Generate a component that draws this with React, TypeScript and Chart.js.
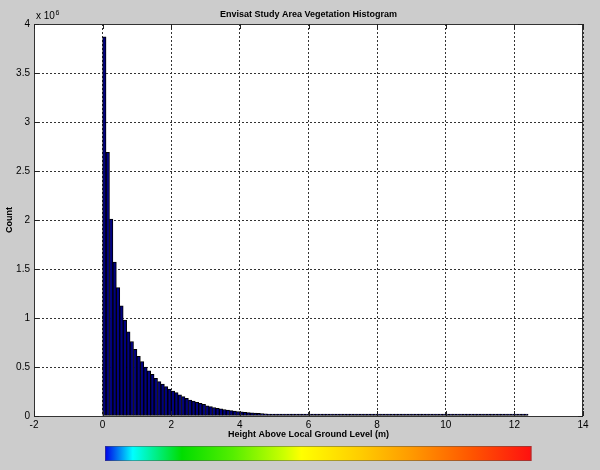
import React, { useEffect, useRef } from "react";
import { Chart, registerables } from "chart.js";

Chart.register(...registerables);

// Histogram bin width (m) and bin counts (in units of 10^6)
const BIN_WIDTH = 0.1;
const COUNTS_MILLIONS: number[] = [
  3.87, 2.69, 2.01, 1.57, 1.31, 1.125, 0.98, 0.86, 0.76, 0.68,
  0.61, 0.555, 0.5, 0.46, 0.425, 0.385, 0.35, 0.325, 0.3, 0.275,
  0.255, 0.238, 0.215, 0.197, 0.18, 0.163, 0.153, 0.14, 0.13, 0.12,
  0.105, 0.095, 0.087, 0.079, 0.072, 0.066, 0.06, 0.055, 0.05, 0.046,
  0.042, 0.038, 0.035, 0.032, 0.029, 0.026, 0.024, 0.022, 0.02, 0.018,
  0.016, 0.015, 0.013, 0.012, 0.011, 0.01, 0.009, 0.008, 0.0075, 0.007,
  0.0065, 0.006, 0.0056, 0.0052, 0.0048, 0.0045, 0.0042, 0.0039, 0.0036, 0.0034,
  0.0031, 0.0029, 0.0027, 0.0025, 0.0023, 0.0022, 0.002, 0.0019, 0.0018, 0.0017,
  0.0016, 0.0015, 0.0014, 0.0013, 0.0012, 0.0012, 0.0011, 0.001, 0.001, 0.0009,
  0.0009, 0.0008, 0.0008, 0.0007, 0.0007, 0.0007, 0.0006, 0.0006, 0.0006, 0.0005,
  0.0005, 0.0005, 0.0005, 0.0004, 0.0004, 0.0004, 0.0004, 0.0004, 0.0003, 0.0003,
  0.0003, 0.0003, 0.0003, 0.0003, 0.0003, 0.0002, 0.0002, 0.0002, 0.0002, 0.0002,
  0.0002, 0.0002, 0.0001, 0.0001,
];

// Axis ranges / ticks
const X_MIN = -2;
const X_MAX = 14;
const X_STEP = 2;
const Y_MIN = 0;
const Y_MAX = 4;
const Y_STEP = 0.5;

// Texts
const TITLE = "Envisat Study Area Vegetation Histogram";
const X_LABEL = "Height Above Local Ground Level (m)";
const Y_LABEL = "Count";
const Y_EXPONENT = "6";

// Colorbar (data-range along x, and colour stops)
const COLORBAR_RANGE = [0.07, 12.5];
const COLORBAR_STOPS: [number, string][] = [
  [0, "#0000e8"],
  [0.065, "#00ffff"],
  [0.18, "#00dd00"],
  [0.3, "#55ee00"],
  [0.42, "#ccff00"],
  [0.46, "#ffff00"],
  [0.6, "#ffcc00"],
  [0.72, "#ff9900"],
  [0.86, "#ff5500"],
  [1, "#ff1010"],
];

const FONT = "'Liberation Sans', Arial, Helvetica, sans-serif";

export default function App() {
  const ref = useRef<HTMLCanvasElement | null>(null);

  useEffect(() => {
    const canvas = ref.current;
    if (!canvas) return;
    document.body.style.margin = "0";

    const points = COUNTS_MILLIONS.map((c, i) => ({
      x: i * BIN_WIDTH + BIN_WIDTH / 2,
      y: c,
    }));

    const decor = {
      id: "matlabDecor",
      beforeDraw(chart: any) {
        const { ctx, chartArea: a } = chart;
        ctx.save();
        ctx.fillStyle = "#cccccc";
        ctx.fillRect(0, 0, chart.width, chart.height);
        ctx.fillStyle = "#ffffff";
        ctx.fillRect(a.left, a.top, a.right - a.left, a.bottom - a.top);
        ctx.restore();
      },
      afterDraw(chart: any) {
        const { ctx, chartArea: a } = chart;
        const xs = chart.scales.x;
        const ys = chart.scales.y;
        ctx.save();
        // box
        ctx.strokeStyle = "#333333";
        ctx.lineWidth = 1;
        ctx.strokeRect(a.left + 0.5, a.top + 0.5, a.right - a.left - 1, a.bottom - a.top);
        // inner tick marks
        ctx.strokeStyle = "#222222";
        ctx.beginPath();
        xs.ticks.forEach((t: any) => {
          const px = Math.round(xs.getPixelForValue(t.value)) + 0.5;
          ctx.moveTo(px, a.bottom);
          ctx.lineTo(px, a.bottom - 5);
          ctx.moveTo(px, a.top);
          ctx.lineTo(px, a.top + 5);
        });
        ys.ticks.forEach((t: any) => {
          const py = Math.round(ys.getPixelForValue(t.value)) + 0.5;
          ctx.moveTo(a.left, py);
          ctx.lineTo(a.left + 5, py);
          ctx.moveTo(a.right, py);
          ctx.lineTo(a.right - 5, py);
        });
        ctx.stroke();

        // title
        ctx.fillStyle = "#000000";
        ctx.textAlign = "center";
        ctx.textBaseline = "middle";
        ctx.font = `bold 9px ${FONT}`;
        const cx = (a.left + a.right) / 2;
        ctx.fillText(TITLE, cx, a.top - 9);
        // x label
        ctx.fillText(X_LABEL, cx, a.bottom + 19);
        // y label
        ctx.save();
        ctx.translate(10, (a.top + a.bottom) / 2);
        ctx.rotate(-Math.PI / 2);
        ctx.fillText(Y_LABEL, 0, 0);
        ctx.restore();
        // exponent
        ctx.textAlign = "left";
        ctx.textBaseline = "alphabetic";
        ctx.font = `10px ${FONT}`;
        ctx.fillText("x 10", a.left + 2, a.top - 5);
        const w = ctx.measureText("x 10").width;
        ctx.font = `7px ${FONT}`;
        ctx.fillText(Y_EXPONENT, a.left + 2 + w + 0.5, a.top - 9);

        // colorbar
        const x0 = xs.getPixelForValue(COLORBAR_RANGE[0]);
        const x1 = xs.getPixelForValue(COLORBAR_RANGE[1]);
        const y0 = a.bottom + 30;
        const h = 15;
        const g = ctx.createLinearGradient(x0, 0, x1, 0);
        COLORBAR_STOPS.forEach(([p, c]) => g.addColorStop(p, c));
        ctx.fillStyle = g;
        ctx.fillRect(x0, y0, x1 - x0, h);
        ctx.strokeStyle = "rgba(80,80,80,0.5)";
        ctx.strokeRect(x0 + 0.5, y0 + 0.5, x1 - x0 - 1, h - 1);
        ctx.restore();
      },
    };

    const chart = new Chart(canvas, {
      type: "bar",
      data: {
        datasets: [
          {
            data: points as any,
            backgroundColor: "#000080",
            borderColor: "#000000",
            borderWidth: 1,
            borderSkipped: false,
            barPercentage: 1,
            categoryPercentage: 1,
            minBarLength: 2,
          },
        ],
      },
      options: {
        animation: false,
        responsive: false,
        maintainAspectRatio: false,
        layout: { padding: { top: 24, right: 17, left: 0, bottom: 0 } },
        plugins: {
          legend: { display: false },
          tooltip: { enabled: false },
          title: { display: false },
        },
        scales: {
          x: {
            type: "linear",
            min: X_MIN,
            max: X_MAX,
            offset: false,
            afterFit: (s: any) => {
              s.height = 54;
            },
            ticks: {
              stepSize: X_STEP,
              color: "#000",
              font: { family: FONT, size: 10 },
              padding: 3,
              maxRotation: 0,
              autoSkip: false,
            },
            grid: {
              color: "#333333",
              lineWidth: 1,
              drawTicks: false,
              offset: false,
            },
            border: { display: false, dash: [2, 2] },
          },
          y: {
            type: "linear",
            min: Y_MIN,
            max: Y_MAX,
            afterFit: (s: any) => {
              s.width = 34;
            },
            ticks: {
              stepSize: Y_STEP,
              color: "#000",
              font: { family: FONT, size: 10 },
              padding: 4,
              callback: (v: any) => String(Number(v)),
            },
            grid: {
              color: "#333333",
              lineWidth: 1,
              drawTicks: false,
            },
            border: { display: false, dash: [2, 2] },
          },
        },
      },
      plugins: [decor],
    });

    return () => chart.destroy();
  }, []);

  return (
    <div style={{ position: "fixed", left: 0, top: 0, width: 600, height: 470, background: "#cccccc" }}>
      <canvas ref={ref} width={600} height={470} style={{ display: "block" }} />
    </div>
  );
}
